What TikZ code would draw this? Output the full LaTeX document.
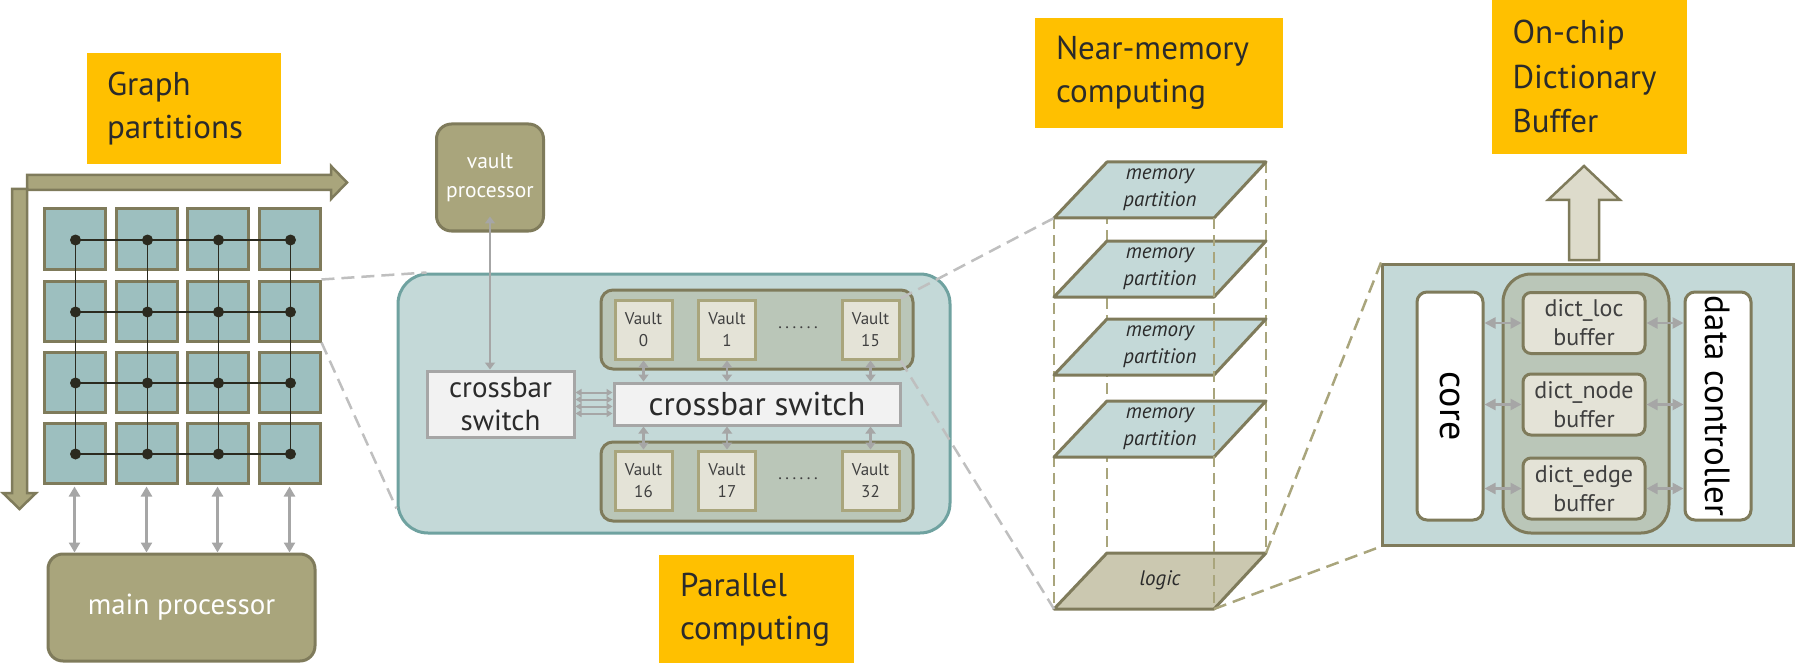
\documentclass[tikz,border=0pt]{standalone}
\usepackage{fontspec}
\setmainfont{PT Sans}
\usetikzlibrary{arrows.meta,calc}
\definecolor{ylw}{HTML}{FFC000}
\definecolor{olv}{HTML}{A9A57C}
\definecolor{olvd}{HTML}{7F7B5B}
\definecolor{sqteal}{HTML}{9DBFBF}
\definecolor{lteal}{HTML}{C4D9D8}
\definecolor{tealb}{HTML}{6FA2A0}
\definecolor{grp}{HTML}{BAC6B8}
\definecolor{vlt}{HTML}{E4E3D7}
\definecolor{xbar}{HTML}{F2F2F2}
\definecolor{gry}{HTML}{A6A6A6}
\definecolor{dgry}{HTML}{BFBFBF}
\definecolor{lgc}{HTML}{CBC8B0}
\definecolor{uparr}{HTML}{DDDBCB}
\definecolor{txt}{HTML}{2B2B2B}
\definecolor{dotc}{HTML}{2B2A1F}
\definecolor{vtxt}{HTML}{404040}
\begin{document}
\begin{tikzpicture}[x=1pt,y=-1pt,
  sq/.style={draw=olvd, fill=sqteal, line width=3pt, minimum width=61pt, minimum height=60pt, inner sep=0pt},
  gridl/.style={draw=dotc, line width=1.8pt},
  ybox/.style={fill=ylw, inner xsep=20pt, inner ysep=0pt, align=left, text=txt, font=\fontsize{33}{43}\selectfont},
  proc/.style={draw=olvd, fill=olv, line width=3pt, rounded corners=15pt, text=white, inner sep=0pt, align=center},
  dbl/.style={draw=gry, line width=2.5pt, {Triangle[length=10pt,width=11pt]}-{Triangle[length=10pt,width=11pt]}},
  dbls/.style={draw=gry, line width=2.5pt, {Triangle[length=7pt,width=10pt]}-{Triangle[length=7pt,width=10pt]}},
  dblt/.style={draw=gry, line width=2pt, {Triangle[length=6pt,width=7pt]}-{Triangle[length=6pt,width=7pt]}},
  xb/.style={draw=gry, fill=xbar, line width=3pt, inner sep=0pt, align=center, text=txt},
  grpbox/.style={draw=olvd, fill=grp, line width=3pt, rounded corners=12pt, inner sep=0pt},
  vault/.style={draw=olv, fill=vlt, line width=3pt, minimum width=57pt, minimum height=59pt, inner sep=0pt, align=center, text=vtxt, font=\fontsize{17}{22}\selectfont},
  plane/.style={draw=olvd, fill=lteal, line width=3pt, line join=round},
  memtxt/.style={align=center, text=txt, inner sep=0pt, font=\fontsize{21}{27}\selectfont\itshape},
  vdash/.style={draw=olv, line width=2.5pt, dash pattern=on 11pt off 6pt},
  gdash/.style={draw=dgry, line width=2.5pt, dash pattern=on 13pt off 7pt},
  odash/.style={draw=olv, line width=2.5pt, dash pattern=on 13pt off 7pt},
  wbox/.style={draw=olvd, fill=white, line width=3pt, rounded corners=10pt, inner sep=0pt},
  dbox/.style={draw=olvd, fill=vlt, line width=3pt, rounded corners=8pt, minimum width=122pt, minimum height=61pt, inner sep=0pt, align=center, text=vtxt, font=\fontsize{24}{29}\selectfont},
  dblr/.style={draw=gry, line width=2.5pt, {Triangle[length=11pt,width=11pt]}-{Triangle[length=11pt,width=11pt]}}
]
\useasboundingbox (0,0) rectangle (1796,663);

% ---------------- Graph partitions ----------------
\node[ybox, minimum width=194pt, minimum height=111pt, text width=154pt] (gp) at (184,109) {Graph\\partitions};

\filldraw[fill=olv, draw=olvd, line width=2.5pt, line join=miter]
  (27,175) -- (331,175) -- (331,166) -- (347,182.5) -- (331,199) -- (331,190) -- (27,190) -- cycle;
\filldraw[fill=olv, draw=olvd, line width=2.5pt, line join=miter]
  (12,189) -- (27,189) -- (27,493) -- (36,493) -- (19.5,509) -- (3,493) -- (12,493) -- cycle;

\foreach \r/\yc in {1/239,2/311,3/382,4/453}{
  \foreach \c/\xc in {1/74.5,2/146.5,3/217.5,4/289.5}{
    \node[sq] (s\r\c) at (\xc,\yc) {};
    \coordinate (d\r\c) at (\xc+1,\yc+1);
  }
}
\foreach \r in {1,...,4}{
  \draw[gridl] (d\r1) -- (d\r4);
  \draw[gridl] (d1\r) -- (d4\r);
}
\foreach \r in {1,...,4}{
  \foreach \c in {1,...,4}{
    \fill[dotc] (d\r\c) circle (5.5pt);
  }
}

\node[proc, minimum width=267pt, minimum height=107pt, font=\fontsize{29}{34}\selectfont] (mp) at (181.5,607.5) {main processor};
\foreach \c in {1,...,4}{
  \draw[dbl] ($(s4\c.south)+(0,2)$) -- (s4\c.south |- mp.north);
}

% ---------------- Parallel computing ----------------
\node[proc, minimum width=107pt, minimum height=107pt, font=\fontsize{21.5}{29}\selectfont] (vp) at (490,177.5) {vault\\processor};
\node[draw=tealb, fill=lteal, line width=3pt, rounded corners=30pt, minimum width=552pt, minimum height=259pt, inner sep=0pt] (pb) at (674,403.5) {};

\node[xb, minimum width=147pt, minimum height=66pt, font=\fontsize{29}{33}\selectfont] (sc) at (500.5,404) {crossbar\\switch};
\node[xb, minimum width=286pt, minimum height=42pt, font=\fontsize{33}{36}\selectfont] (bc) at (757,404) {crossbar switch};

\draw[dbls] (sc.north -| vp.south) -- ($(vp.south)+(0,-16)$);

\node[grpbox, minimum width=312pt, minimum height=79pt] (tg) at (757,329.5) {};
\node[grpbox, minimum width=312pt, minimum height=79pt] (bg) at (757,481.5) {};

\node[vault] (v0) at (643.5,329.5) {Vault\\0};
\node[vault] (v1) at (727,329.5) {Vault\\1};
\node[vault] (v15) at (870.5,329.5) {Vault\\15};
\node[vault] (v16) at (643.5,480.5) {Vault\\16};
\node[vault] (v17) at (727,480.5) {Vault\\17};
\node[vault] (v32) at (870.5,480.5) {Vault\\32};
\node[text=vtxt, inner sep=0pt, font=\fontsize{17}{20}\selectfont] (td) at (798,328) {.\kern3.5pt.\kern3.5pt.\kern3.5pt.\kern3.5pt.\kern3.5pt.};
\node[text=vtxt, inner sep=0pt, font=\fontsize{17}{20}\selectfont] (bd) at (798,479) {.\kern3.5pt.\kern3.5pt.\kern3.5pt.\kern3.5pt.\kern3.5pt.};

\foreach \v in {v0,v1,v15}{
  \draw[dbls] (\v.south) -- (\v.south |- bc.north);
}
\foreach \v in {v16,v17,v32}{
  \draw[dbls] (bc.south -| \v.north) -- (\v.north);
}
\foreach \dy in {-11.5,-4.5,2.5,9.5}{
  \draw[dblt] ($(sc.east)+(0,\dy)$) -- ($(bc.west)+(0,\dy)$);
}

\draw[gdash] (s24.north east) -- ($(pb.north west)+(30,0)$);
\draw[gdash] (s24.south east) -- ($(pb.south west)+(0,-26)$);

\node[ybox, minimum width=195pt, minimum height=109pt, text width=153pt] (pc) at (756.5,609.5) {Parallel\\computing};

% ---------------- Near-memory computing ----------------
\node[ybox, minimum width=248pt, minimum height=110.5pt, text width=206pt] (nm) at (1159,73.25) {\mbox{Near-memory}\\computing};

\foreach \i/\yb in {1/218,2/297,3/375,4/457}{
  \coordinate (p\i bl) at (1054,\yb);
  \coordinate (p\i br) at (1214,\yb);
  \coordinate (p\i tr) at (1266,\yb-56);
  \coordinate (p\i tl) at (1107,\yb-56);
}
\coordinate (lbl) at (1054,609);
\coordinate (lbr) at (1214,609);
\coordinate (ltr) at (1266,553);
\coordinate (ltl) at (1107,553);

\draw[vdash] (p1bl) -- (lbl);
\draw[vdash] (p1tl) -- (ltl);
\draw[vdash] (p1tr) -- (ltr);

\foreach \i/\yc in {1/190,2/269,3/347,4/429}{
  \draw[plane] (p\i bl) -- (p\i br) -- (p\i tr) -- (p\i tl) -- cycle;
  \node[memtxt] (m\i) at (1160,\yc) {memory\\partition};
}
\draw[plane, fill=lgc] (lbl) -- (lbr) -- (ltr) -- (ltl) -- cycle;
\node[memtxt] (lg) at (1160,580) {logic};

\draw[vdash] (p1br) -- (lbr);

\draw[gdash] (v15.north east) -- (p1bl);
\draw[gdash] (v15.south east) -- (lbl);

% ---------------- On-chip dictionary buffer ----------------
\node[ybox, minimum width=195pt, minimum height=153.6pt, text width=154pt, font=\fontsize{33}{44.5}\selectfont] (oc) at (1589.5,76.8) {On-chip\\Dictionary\\Buffer};

\filldraw[fill=uparr, draw=olvd, line width=2.5pt, line join=miter]
  (1569,260) -- (1569,200) -- (1548,200) -- (1584,166) -- (1620,200) -- (1599,200) -- (1599,260) -- cycle;

\node[draw=olvd, fill=lteal, line width=3pt, minimum width=411pt, minimum height=281pt, inner sep=0pt] (rb) at (1588,404.5) {};

\draw[odash] (ltr) -- (rb.north west);
\draw[odash] (lbr) -- (rb.south west);

\node[wbox, minimum width=66pt, minimum height=228pt] (core) at (1450,406) {};
\node[rotate=-90, text=black, inner sep=0pt, font=\fontsize{38}{40}\selectfont] (coret) at (core.center) {core};
\node[wbox, minimum width=66pt, minimum height=228pt] (dc) at (1718,406) {};
\node[rotate=-90, text=black, inner sep=0pt, font=\fontsize{35}{40}\selectfont] (dct) at (dc.center) {data controller};

\node[draw=olvd, fill=grp, line width=3pt, rounded corners=28pt, minimum width=166pt, minimum height=259pt, inner sep=0pt] (mg) at (1586,403.5) {};
\node[dbox] (dl) at (1584,323) {dict\_loc\\buffer};
\node[dbox] (dn) at (1584,404.5) {dict\_node\\buffer};
\node[dbox] (de) at (1584,488.5) {dict\_edge\\buffer};

\foreach \b in {dl,dn,de}{
  \draw[dblr] (core.east |- \b.west) -- (\b.west);
  \draw[dblr] (\b.east) -- (dc.west |- \b.east);
}
\end{tikzpicture}
\end{document}
